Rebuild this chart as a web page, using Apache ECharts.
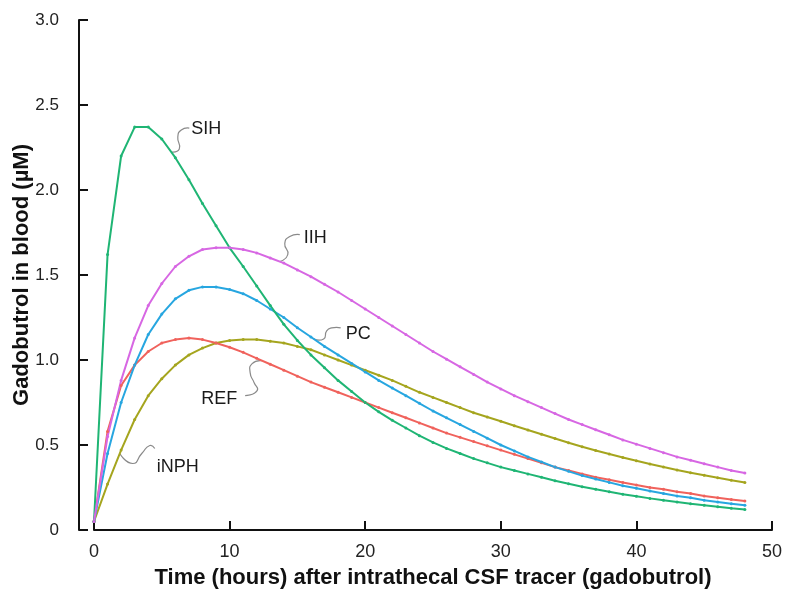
<!DOCTYPE html>
<html>
<head>
<meta charset="utf-8">
<script src="https://cdn.jsdelivr.net/npm/echarts@6/dist/echarts.min.js"></script>
<style>
html,body{margin:0;padding:0;background:#fff;}
#chart{width:786px;height:594px;}
</style>
</head>
<body>
<div id="chart"></div>
<script>
// Time points (hours)
var hours = [0,1,2,3,4,5,6,7,8,9,10,11,12,13,14,15,16,17,18,19,20,21,22,23,24,25,26,27,28,29,30,31,32,33,34,35,36,37,38,39,40,41,42,43,44,45,46,47,48];

// Gadobutrol in blood (µM)
var SIH  = [0.05,1.62,2.20,2.37,2.37,2.30,2.19,2.06,1.92,1.79,1.66,1.55,1.435,1.32,1.21,1.115,1.03,0.955,0.88,0.815,0.75,0.695,0.645,0.60,0.555,0.515,0.48,0.45,0.42,0.395,0.37,0.35,0.33,0.31,0.29,0.272,0.255,0.24,0.225,0.21,0.198,0.186,0.175,0.165,0.155,0.146,0.137,0.128,0.12];
var IIH  = [0.05,0.55,0.88,1.13,1.32,1.45,1.55,1.61,1.65,1.66,1.66,1.65,1.63,1.60,1.57,1.53,1.49,1.445,1.40,1.35,1.30,1.25,1.20,1.15,1.10,1.05,1.005,0.96,0.915,0.87,0.83,0.79,0.755,0.72,0.685,0.65,0.62,0.59,0.56,0.53,0.505,0.48,0.455,0.43,0.41,0.39,0.37,0.35,0.335];
var PC   = [0.05,0.45,0.75,0.97,1.15,1.27,1.36,1.41,1.43,1.43,1.415,1.39,1.35,1.30,1.25,1.19,1.135,1.08,1.03,0.98,0.93,0.88,0.835,0.79,0.745,0.70,0.66,0.62,0.58,0.54,0.50,0.465,0.43,0.40,0.37,0.345,0.32,0.30,0.28,0.26,0.245,0.23,0.215,0.20,0.19,0.175,0.165,0.155,0.145];
var REF  = [0.05,0.58,0.85,0.97,1.05,1.10,1.12,1.13,1.12,1.10,1.075,1.045,1.01,0.975,0.94,0.905,0.87,0.84,0.81,0.78,0.75,0.72,0.69,0.66,0.63,0.60,0.57,0.545,0.52,0.495,0.47,0.445,0.42,0.395,0.37,0.35,0.33,0.31,0.295,0.28,0.265,0.25,0.24,0.225,0.215,0.20,0.19,0.18,0.17];
var iNPH = [0.05,0.27,0.47,0.65,0.79,0.89,0.97,1.03,1.07,1.10,1.115,1.12,1.12,1.11,1.10,1.08,1.06,1.03,1.00,0.97,0.94,0.91,0.88,0.845,0.81,0.78,0.75,0.72,0.69,0.665,0.64,0.613,0.588,0.563,0.538,0.513,0.49,0.468,0.447,0.427,0.407,0.388,0.37,0.353,0.337,0.322,0.307,0.293,0.28];

var seriesNames = ['iNPH','REF','PC','SIH','IIH'];
var seriesData  = {SIH:SIH, IIH:IIH, PC:PC, REF:REF, iNPH:iNPH};
var colors = {SIH:'#1fb574', IIH:'#d767e3', PC:'#27a6e0', REF:'#f0625c', iNPH:'#a5a51e'};

var xTicks = [0,10,20,30,40,50];
var yTicks = [0,0.5,1.0,1.5,2.0,2.5,3.0];

// Label anchors: time on the named curve
var labelNames = ['SIH','IIH','PC','REF','iNPH'];
var labelTimes = [5.7,13.7,16.2,12.4,1.9];

// Leader styling (pixel offsets from anchor)
var leaderStyle = {
  SIH:  {pts:[[0,0],[8,-3],[6.5,-15],[10,-22],[18,-24]], text:[20,-23], align:'left'},
  IIH:  {pts:[[0,0],[8,-7],[5,-18],[10,-25],[20,-27]], text:[24,-24], align:'left'},
  PC:   {pts:[[0,0],[10,0],[13,-8],[18,-11],[27,-11]], text:[32,-5], align:'left'},
  REF:  {pts:[[0,0],[-10,3],[-12,12],[-8,22],[-5,30],[-17,35]], text:[-25,38], align:'right'},
  iNPH: {pts:[[0,0],[13,10],[22,0],[30,-8],[35,-5]], text:[37,14], align:'left'}
};

function pairs(arr){ return hours.map(function(h,i){ return [h, arr[i]]; }); }
function interp(arr, t){
  var i = Math.floor(t); if (i >= hours.length-1) return arr[arr.length-1];
  var f = t - i; return arr[i]*(1-f) + arr[i+1]*f;
}

var chart = echarts.init(document.getElementById('chart'), null, {renderer:'canvas'});
var fontFam = '"Liberation Sans", Arial, sans-serif';

var option = {
  animation:false,
  backgroundColor:'#fff',
  grid:{left:94, right:14, top:20, bottom:64, containLabel:false, outerBoundsMode:'none'},
  xAxis:{
    type:'value', min:0, max:50, interval:10,
    name:'Time (hours) after intrathecal CSF tracer (gadobutrol)',
    nameLocation:'middle', nameGap:37, nameMoveOverlap:false,
    nameTextStyle:{fontFamily:fontFam, fontSize:22, fontWeight:'bold', color:'#111'},
    axisLine:{show:true, onZero:false, lineStyle:{color:'#111', width:2}},
    axisTick:{show:true, inside:true, length:9, lineStyle:{color:'#111', width:2}},
    axisLabel:{fontFamily:fontFam, fontSize:18, color:'#222', margin:13,
      formatter:function(v){ return xTicks.indexOf(v)>=0 ? String(v) : ''; }},
    splitLine:{show:false}
  },
  yAxis:{
    type:'value', min:0, max:3, interval:0.5, offset:15,
    name:'Gadobutrol in blood (µM)',
    nameLocation:'middle', nameGap:46, nameRotate:90, nameMoveOverlap:false,
    nameTextStyle:{fontFamily:fontFam, fontSize:22, fontWeight:'bold', color:'#111'},
    axisLine:{show:true, onZero:false, lineStyle:{color:'#111', width:2}},
    axisTick:{show:true, inside:true, length:9, lineStyle:{color:'#111', width:2}},
    axisLabel:{fontFamily:fontFam, fontSize:17, color:'#222', margin:20,
      formatter:function(v){ return v===0 ? '0' : v.toFixed(1); }},
    splitLine:{show:false}
  },
  series: seriesNames.map(function(n){
    return {
      name:n, type:'line', data:pairs(seriesData[n]),
      symbol:'circle', symbolSize:3, showSymbol:true,
      lineStyle:{color:colors[n], width:2},
      itemStyle:{color:colors[n]},
      emphasis:{disabled:true}
    };
  })
};
chart.setOption(option);

var graphics = [];
labelNames.forEach(function(n, k){
  var t = labelTimes[k];
  var p = chart.convertToPixel({gridIndex:0}, [t, interp(seriesData[n], t)]);
  var st = leaderStyle[n];
  graphics.push({
    type:'polyline', silent:true,
    shape:{points: st.pts.map(function(q){ return [p[0]+q[0], p[1]+q[1]]; }), smooth:0.6},
    style:{stroke:'#8a8a8a', lineWidth:1.2, fill:null}
  });
  graphics.push({
    type:'text', silent:true,
    x:p[0]+st.text[0], y:p[1]+st.text[1],
    style:{text:n, fontFamily:fontFam, fontSize:18, fill:'#1a1a1a',
      align:st.align, verticalAlign:'middle'}
  });
});
chart.setOption({graphic:graphics});
</script>
</body>
</html>
